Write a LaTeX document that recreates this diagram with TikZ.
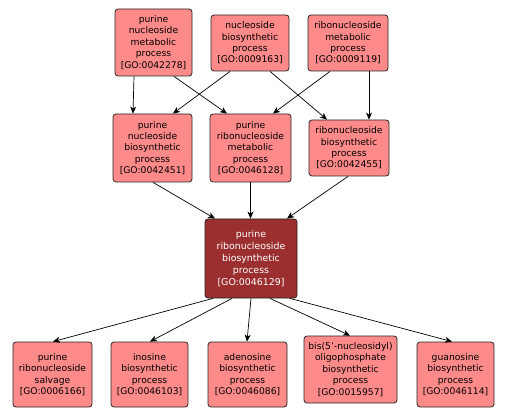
\documentclass[tikz,border=0pt]{standalone}
\usepackage{fontspec}
\setmainfont{DejaVu Sans}
\usetikzlibrary{arrows.meta}
\definecolor{pinkfill}{RGB}{255,138,138}
\definecolor{darkfill}{RGB}{155,46,46}
\tikzset{
  term/.style={draw=black!85, line width=0.8pt, rounded corners=3pt, fill=pinkfill,
    align=center, inner sep=0pt, font=\fontsize{9.2}{11.4}\selectfont, text=black},
  focus/.style={term, fill=darkfill, text=white, font=\fontsize{9.4}{12.2}\selectfont},
  edge/.style={draw=black, line width=0.7pt, -{Stealth[length=7pt,width=6pt,inset=2pt]}}
}
\begin{document}
\begin{tikzpicture}[x=1pt,y=-1pt]
\useasboundingbox (0,0) rectangle (506,414);
\fill[white] (0,0) rectangle (506,414);
% top row
\node[term, minimum width=77pt, minimum height=67pt] (A) at (153.5,42.5) {purine\\nucleoside\\metabolic\\process\\{[GO:0042278]}};
\node[term, minimum width=78pt, minimum height=56pt] (B) at (250,43) {nucleoside\\biosynthetic\\process\\{[GO:0009163]}};
\node[term, minimum width=80pt, minimum height=56pt] (C) at (348,43) {ribonucleoside\\metabolic\\process\\{[GO:0009119]}};
% middle row
\node[term, minimum width=79pt, minimum height=68pt] (D) at (152.5,148) {purine\\nucleoside\\biosynthetic\\process\\{[GO:0042451]}};
\node[term, minimum width=81pt, minimum height=68pt] (E) at (250.5,148) {purine\\ribonucleoside\\metabolic\\process\\{[GO:0046128]}};
\node[term, minimum width=80pt, minimum height=56pt] (F) at (349,148) {ribonucleoside\\biosynthetic\\process\\{[GO:0042455]}};
% focus
\node[focus, minimum width=92pt, minimum height=79pt] (G) at (251,258.5) {purine\\ribonucleoside\\biosynthetic\\process\\{[GO:0046129]}};
% bottom row
\node[term, minimum width=79pt, minimum height=65pt] (H) at (52.5,374.5) {purine\\ribonucleoside\\salvage\\{[GO:0006166]}};
\node[term, minimum width=77pt, minimum height=65pt] (I) at (149.5,374.5) {inosine\\biosynthetic\\process\\{[GO:0046103]}};
\node[term, minimum width=79pt, minimum height=65pt] (J) at (247.5,374.5) {adenosine\\biosynthetic\\process\\{[GO:0046086]}};
\node[term, minimum width=93pt, minimum height=67pt] (K) at (350.5,369.5) {bis(5'-nucleosidyl)\\oligophosphate\\biosynthetic\\process\\{[GO:0015957]}};
\node[term, minimum width=77pt, minimum height=65pt] (L) at (455.5,374.5) {guanosine\\biosynthetic\\process\\{[GO:0046114]}};
% edges top -> middle
\draw[edge] ([xshift=-19.5pt]A.south) -- ([xshift=-19.5pt]D.north);
\draw[edge] ([xshift=20.5pt]A.south) -- ([xshift=-23.5pt]E.north);
\draw[edge] ([xshift=-20pt]B.south) -- ([xshift=20.5pt]D.north);
\draw[edge] ([xshift=20pt]B.south) -- ([xshift=-22pt]F.north);
\draw[edge] ([xshift=-18pt]C.south) -- ([xshift=22.5pt]E.north);
\draw[edge] ([xshift=21pt]C.south) -- ([xshift=20pt]F.north);
% middle -> focus
\draw[edge] ([xshift=0.5pt]D.south) -- ([xshift=-36pt]G.north);
\draw[edge] (E.south) -- ([xshift=-0.5pt]G.north);
\draw[edge] ([xshift=-1pt]F.south) -- ([xshift=36pt]G.north);
% focus -> bottom
\draw[edge] ([xshift=-38pt]G.south) -- ([xshift=0.5pt]H.north);
\draw[edge] ([xshift=-19pt]G.south) -- ([xshift=0.5pt]I.north);
\draw[edge] (G.south) -- ([xshift=-0.5pt]J.north);
\draw[edge] ([xshift=19pt]G.south) -- ([xshift=-0.5pt]K.north);
\draw[edge] ([xshift=39pt]G.south) -- ([xshift=-3.5pt]L.north);
\end{tikzpicture}
\end{document}
